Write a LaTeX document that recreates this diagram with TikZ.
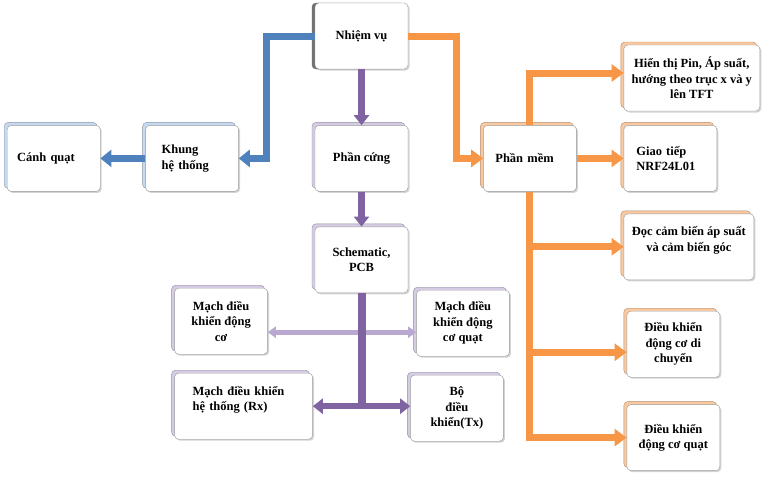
\documentclass[tikz,border=0pt]{standalone}
\usepackage{fontspec}
\setmainfont{Liberation Serif}
\usetikzlibrary{arrows.meta,positioning,shadows}

\definecolor{taskblue}{HTML}{4F81BD}
\definecolor{taskpurple}{HTML}{8064A2}
\definecolor{tasklilac}{HTML}{B9A9D0}
\definecolor{taskorange}{HTML}{F79646}
\definecolor{backblue}{HTML}{C6D9F1}
\definecolor{backlilac}{HTML}{D5CCE4}
\definecolor{backpeach}{HTML}{FAC9A0}

\begin{document}
\begin{tikzpicture}[x=1pt, y=-1pt,
    every node/.style={font=\fontsize{12.5}{15.5}\selectfont\bfseries},
    box/.style={rectangle, draw=black!40, fill=white, rounded corners=4pt,
        minimum width=93pt, minimum height=66pt, inner sep=2pt, align=center,
        drop shadow={shadow xshift=1.5pt, shadow yshift=-1.5pt, opacity=0.35}},
    topbox/.style={box, copy shadow={shadow xshift=-3pt, shadow yshift=0pt,
        fill=black!55, draw=black!60}},
    bluebox/.style={box, copy shadow={shadow xshift=-3pt, shadow yshift=3pt,
        fill=backblue, draw=backblue!70!black}},
    purplebox/.style={box, copy shadow={shadow xshift=-3pt, shadow yshift=3pt,
        fill=backlilac, draw=backlilac!70!black}},
    orangebox/.style={box, copy shadow={shadow xshift=-3pt, shadow yshift=3pt,
        fill=backpeach, draw=backpeach!70!black}},
    leftbox/.style={align=left, text width=#1},
    bluearrow/.style={draw=taskblue, line width=7pt,
        -{Triangle[length=11pt, width=17pt]}},
    purplearrow/.style={draw=taskpurple, line width=7pt,
        -{Triangle[length=10pt, width=15pt]}},
    purpleline/.style={draw=taskpurple, line width=8pt},
    purpledouble/.style={draw=taskpurple, line width=6pt,
        {Triangle[length=10pt, width=15pt]}-{Triangle[length=10pt, width=15pt]}},
    lilacdouble/.style={draw=tasklilac, line width=5pt,
        {Triangle[length=8pt, width=11pt]}-{Triangle[length=8pt, width=11pt]}},
    orangearrow/.style={draw=taskorange, line width=7pt,
        -{Triangle[length=12pt, width=17pt]}},
]

% ===== Root =====
\node[topbox] (nhiemvu) at (361.5,36) {Nhiệm vụ};

% ===== Middle: hardware =====
\node[purplebox, below=56pt of nhiemvu] (phancung) {Phần cứng};
\node[purplebox, below=35pt of phancung] (schematic) {Schematic,\\PCB};

\node[purplebox, below left=-5pt and 47pt of schematic] (mach1)
    {Mạch điều\\khiển động\\cơ};
\node[purplebox, below right=-3pt and 8pt of schematic] (mach2)
    {Mạch điều\\khiển động\\cơ quạt};
\node[purplebox, leftbox=102pt, minimum width=138pt,
    below left=80pt and 2pt of schematic] (machrx)
    {Mạch điều khiển\\hệ thống (Rx)\\\mbox{}};
\node[purplebox, below right=82pt and 2pt of schematic] (botx)
    {Bộ\\điều\\khiển(Tx)};

% ===== Left: frame =====
\node[bluebox, leftbox=61pt, left=76pt of phancung] (khung) {Khung\\hệ thống};
\node[bluebox, leftbox=73pt, left=45pt of khung] (canhquat) {Cánh quạt};

% ===== Right: software =====
\node[orangebox, leftbox=69pt, right=75pt of phancung] (phanmem) {Phần mềm};
\node[orangebox, leftbox=68pt, right=47pt of phanmem] (giaotiep)
    {Giao tiếp\\NRF24L01};
\node[orangebox, minimum width=136pt,
    above=14pt of giaotiep.north west, anchor=south west] (hienthi)
    {Hiển thị Pin, Áp suất,\\hướng theo trục x và y\\lên TFT};
\node[orangebox, minimum width=130pt,
    below=22pt of giaotiep.south west, anchor=north west] (doccambien)
    {Đọc cảm biến áp suất\\và cảm biến góc\\\mbox{}};
\node[orangebox, below=31pt of doccambien.south west, anchor=north west,
    xshift=3pt] (dkdichuyen) {Điều khiển\\động cơ di\\chuyển};
\node[orangebox, below=27pt of dkdichuyen] (dkquat) {Điều khiển\\động cơ quạt};

% ===== Blue connectors =====
\draw[bluearrow] (nhiemvu.west) -- ++(-48,0) |- (khung.east);
\draw[bluearrow] (khung.west) -- (canhquat.east);

% ===== Purple connectors =====
\draw[purplearrow] (nhiemvu) -- (phancung);
\draw[purplearrow] (phancung) -- (schematic);
\draw[lilacdouble] ([yshift=-11pt]mach1.east) -- ([yshift=-11pt]mach1.east -| mach2.west);
\draw[purpleline] (schematic.south) -- (schematic.south |- machrx.east);
\draw[purpledouble] (machrx.east) -- (machrx.east -| botx.west);

% ===== Orange connectors =====
\coordinate (tftin) at ([yshift=5pt]hienthi.west);
\coordinate (dkin) at ([yshift=-8pt]dkdichuyen.west);
\draw[orangearrow] (nhiemvu.east) -- ++(48,0) |- (phanmem.west);
\draw[orangearrow] (phanmem.north) |- (tftin);
\draw[orangearrow] (phanmem) -- (giaotiep);
\draw[orangearrow] (phanmem.south) |- (dkquat.west);
\draw[orangearrow] (phanmem.south |- doccambien.west) -- (doccambien.west);
\draw[orangearrow] (phanmem.south |- dkin) -- (dkin);

\useasboundingbox (0,0) rectangle (778,493);
\end{tikzpicture}
\end{document}
